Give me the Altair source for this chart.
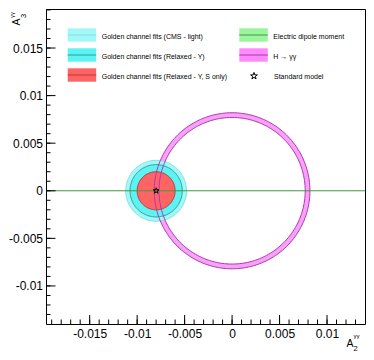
import altair as alt
import numpy as np
import pandas as pd

# ---------------- data ----------------
x_domain = [-0.0196, 0.014]
y_domain = [-0.014, 0.0191]
x_major = [-0.015, -0.01, -0.005, 0.0, 0.005, 0.01]
y_major = [-0.01, -0.005, 0.0, 0.005, 0.01, 0.015]
x_minor = [round(-0.019 + 0.001 * i, 3) for i in range(33)]
y_minor = [round(-0.013 + 0.001 * i, 3) for i in range(33)]

fit_names = ["Golden channel fits (CMS - light)",
             "Golden channel fits (Relaxed - Y)",
             "Golden channel fits (Relaxed - Y, S only)"]
fit_cx = [-0.008, -0.008, -0.008]
fit_cy = [0.0, 0.0, 0.0]
fit_r = [0.0032, 0.00275, 0.002]
fit_fill = ["#a4f7f7", "#5cf3f3", "#ff6464"]
fit_line = ["#7fe3e3", "#2f9c9c", "#b83838"]

ring_name = "H \u2192 \u03b3\u03b3"
ring_cx, ring_cy = 0.0, 0.0
ring_r_in, ring_r_out = 0.0077, 0.0082
ring_fill, ring_line = "#f6a2f6", "#b834b8"

edm_name = "Electric dipole moment"
edm_y = [0.0]
edm_fill, edm_line = "#9cf59c", "#3f9a3f"

sm_name = "Standard model"
sm_x, sm_y = [-0.008], [0.0]

STAR = ("M0,-1L0.2245,-0.309L0.951,-0.309L0.363,0.118L0.588,0.809L0,0.382"
        "L-0.588,0.809L-0.363,0.118L-0.951,-0.309L-0.2245,-0.309Z")

W, H = 319, 315
FONT = "Liberation Sans"

xs = alt.Scale(domain=x_domain, nice=False, zero=False)
ys = alt.Scale(domain=y_domain, nice=False, zero=False)
x_axis = alt.Axis(values=x_major, labelExpr="'' + datum.value", ticks=False,
                  domain=False, grid=False, title=None, labelFont=FONT,
                  labelFontSize=12, labelPadding=4, labelColor="black",
                  labelFlush=False, orient="bottom")
y_axis = alt.Axis(values=y_major, labelExpr="'' + datum.value", ticks=False,
                  domain=False, grid=False, title=None, labelFont=FONT,
                  labelFontSize=12, labelPadding=3.5, labelColor="black",
                  labelFlush=False, orient="left")


def X(f="x"):
    return alt.X(f, type="quantitative", scale=xs, axis=x_axis)


def Y(f="y"):
    return alt.Y(f, type="quantitative", scale=ys, axis=y_axis)


theta = np.linspace(0, 2 * np.pi, 181)


def circle(cx, cy, r, reverse=False):
    t = theta[::-1] if reverse else theta
    return cx + r * np.cos(t), cy + r * np.sin(t)


layers = []

# ring fill (annulus) for H -> gamma gamma
ox, oy = circle(ring_cx, ring_cy, ring_r_out)
ix, iy = circle(ring_cx, ring_cy, ring_r_in, reverse=True)
ring_df = pd.DataFrame({"x": np.concatenate([ox, ix]),
                        "y": np.concatenate([oy, iy])})
ring_df["i"] = np.arange(len(ring_df))
layers.append(alt.Chart(ring_df).mark_line(
    interpolate="linear-closed", fill=ring_fill, strokeOpacity=0, clip=True
).encode(x=X(), y=Y(), order="i:Q"))

# golden channel discs
for cx, cy, r, fc, lc in zip(fit_cx, fit_cy, fit_r, fit_fill, fit_line):
    px, py = circle(cx, cy, r)
    d = pd.DataFrame({"x": px, "y": py, "i": np.arange(len(px))})
    layers.append(alt.Chart(d).mark_line(
        interpolate="linear-closed", fill=fc, stroke=lc, strokeWidth=1
    ).encode(x=X(), y=Y(), order="i:Q"))

# ring edges
edges = []
for k, r in enumerate([ring_r_in, ring_r_out]):
    px, py = circle(ring_cx, ring_cy, r)
    edges.append(pd.DataFrame({"x": px, "y": py, "i": np.arange(len(px)), "k": k}))
edge_df = pd.concat(edges, ignore_index=True)
layers.append(alt.Chart(edge_df).mark_line(
    interpolate="linear-closed", stroke=ring_line, strokeWidth=1, clip=True
).encode(x=X(), y=Y(), order="i:Q", detail="k:N"))

# electric dipole moment line
layers.append(alt.Chart(pd.DataFrame({"y": edm_y})).mark_rule(
    color=edm_line, strokeWidth=1).encode(y=Y()))

# standard model star
layers.append(alt.Chart(pd.DataFrame({"x": sm_x, "y": sm_y})).mark_point(
    shape=STAR, filled=False, stroke="black", strokeWidth=1, size=36, opacity=1
).encode(x=X(), y=Y()))

# inward ticks
layers.append(alt.Chart(pd.DataFrame({"x": x_minor})).mark_rule(
    color="black", strokeWidth=1).encode(x=X(), y=alt.value(H), y2=alt.value(H - 4.5)))
layers.append(alt.Chart(pd.DataFrame({"x": x_major})).mark_rule(
    color="black", strokeWidth=1).encode(x=X(), y=alt.value(H), y2=alt.value(H - 9)))
layers.append(alt.Chart(pd.DataFrame({"y": y_minor})).mark_rule(
    color="black", strokeWidth=1).encode(y=Y(), x=alt.value(0), x2=alt.value(4.5)))
layers.append(alt.Chart(pd.DataFrame({"y": y_major})).mark_rule(
    color="black", strokeWidth=1).encode(y=Y(), x=alt.value(0), x2=alt.value(9.5)))

# legend
one = pd.DataFrame({"a": [0]})
leg_items = [
    (fit_names[0], fit_fill[0], fit_line[0], 0, 0),
    (fit_names[1], fit_fill[1], fit_line[1], 0, 1),
    (fit_names[2], fit_fill[2], fit_line[2], 0, 2),
    (edm_name, edm_fill, edm_line, 1, 0),
    (ring_name, "#ff88ff", "#a03ca0", 1, 1),
]
col_x = [21.7, 193.3]
row_y = [26, 46, 66]
for name, fc, lc, c, r in leg_items:
    x0 = col_x[c]
    y0 = row_y[r]
    layers.append(alt.Chart(one).mark_rect(color=fc).encode(
        x=alt.value(x0), x2=alt.value(x0 + 28.5),
        y=alt.value(y0 - 6.7), y2=alt.value(y0 + 6.7)))
    layers.append(alt.Chart(one).mark_rule(color=lc, strokeWidth=1).encode(
        x=alt.value(x0), x2=alt.value(x0 + 28.5),
        y=alt.value(y0), y2=alt.value(y0)))
    layers.append(alt.Chart(one).mark_text(
        text=name, font=FONT, fontSize=7, align="left", baseline="middle",
        color="black").encode(x=alt.value(x0 + 34), y=alt.value(y0 + 2)))
layers.append(alt.Chart(one).mark_point(
    shape=STAR, filled=False, stroke="black", strokeWidth=1, size=50, opacity=1
).encode(x=alt.value(208), y=alt.value(67)))
layers.append(alt.Chart(one).mark_text(
    text=sm_name, font=FONT, fontSize=7, align="left", baseline="middle",
    color="black").encode(x=alt.value(228), y=alt.value(68)))

# axis titles (A_2^{γγ}, A_3^{γγ})
layers.append(alt.Chart(one).mark_text(
    text="A", font=FONT, fontSize=10.5, align="center", baseline="alphabetic",
    color="black").encode(x=alt.value(304), y=alt.value(338)))
layers.append(alt.Chart(one).mark_text(
    text="2", font=FONT, fontSize=7.5, align="left", baseline="alphabetic",
    color="black").encode(x=alt.value(307.5), y=alt.value(342)))
layers.append(alt.Chart(one).mark_text(
    text="\u03b3\u03b3", font=FONT, fontSize=6, align="left", baseline="alphabetic",
    color="black").encode(x=alt.value(307.5), y=alt.value(329.4)))

layers.append(alt.Chart(one).mark_text(
    text="A", font=FONT, fontSize=10.5, align="center", baseline="alphabetic",
    angle=270, color="black").encode(x=alt.value(-26), y=alt.value(13)))
layers.append(alt.Chart(one).mark_text(
    text="3", font=FONT, fontSize=7.5, align="center", baseline="alphabetic",
    angle=270, color="black").encode(x=alt.value(-20), y=alt.value(6.8)))
layers.append(alt.Chart(one).mark_text(
    text="\u03b3\u03b3", font=FONT, fontSize=6, align="center", baseline="alphabetic",
    angle=270, color="black").encode(x=alt.value(-32.3), y=alt.value(6)))

chart = alt.layer(*layers).properties(
    width=W, height=H, autosize="none",
    padding={"left": 38, "top": 1, "right": 1, "bottom": 28},
    background="white",
).configure_view(stroke="black", strokeWidth=1)

chart.save("out.html", embed_options={"renderer": "svg", "actions": False})
